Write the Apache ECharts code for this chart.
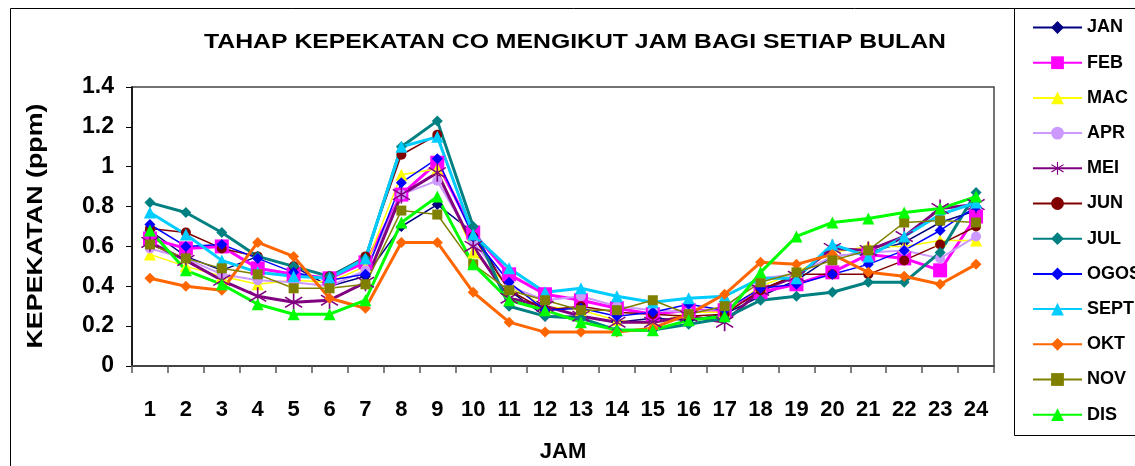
<!DOCTYPE html>
<html>
<head>
<meta charset="utf-8">
<script src="https://cdn.jsdelivr.net/npm/echarts@6/dist/echarts.min.js"></script>
<style>html,body{margin:0;padding:0;background:#fff}#c{width:1135px;height:466px}</style>
</head>
<body>
<div id="c"></div>
<script>
const hours = ['1','2','3','4','5','6','7','8','9','10','11','12','13','14','15','16','17','18','19','20','21','22','23','24'];
const JAN  = [0.68,0.55,0.48,0.55,0.50,0.40,0.45,0.70,0.81,0.67,0.38,0.25,0.25,0.22,0.24,0.23,0.26,0.35,0.43,0.55,0.57,0.62,0.72,0.78];
const FEB  = [0.64,0.59,0.60,0.49,0.46,0.44,0.52,0.86,1.02,0.67,0.46,0.36,0.33,0.29,0.26,0.28,0.28,0.37,0.41,0.47,0.56,0.54,0.48,0.75];
const MAC  = [0.56,0.50,0.45,0.41,0.43,0.42,0.50,0.96,0.99,0.57,0.40,0.30,0.28,0.23,0.21,0.27,0.27,0.40,0.47,0.57,0.60,0.60,0.63,0.63];
const APR  = [0.59,0.54,0.46,0.43,0.42,0.40,0.48,0.86,0.93,0.62,0.40,0.33,0.35,0.30,0.28,0.27,0.29,0.44,0.46,0.55,0.57,0.58,0.54,0.65];
const MEI  = [0.62,0.53,0.43,0.35,0.32,0.33,0.42,0.86,0.97,0.60,0.34,0.30,0.25,0.22,0.22,0.25,0.22,0.38,0.45,0.59,0.58,0.65,0.79,0.81];
const JUN  = [0.69,0.67,0.59,0.55,0.50,0.45,0.55,1.06,1.16,0.65,0.38,0.28,0.30,0.27,0.26,0.25,0.26,0.38,0.46,0.46,0.46,0.53,0.61,0.70];
const JUL  = [0.82,0.77,0.67,0.55,0.50,0.45,0.54,1.10,1.23,0.70,0.30,0.25,0.24,0.18,0.18,0.21,0.24,0.33,0.35,0.37,0.42,0.42,0.57,0.87];
const OGOS = [0.71,0.60,0.61,0.54,0.47,0.43,0.46,0.92,1.04,0.65,0.42,0.28,0.29,0.25,0.27,0.31,0.28,0.39,0.41,0.46,0.51,0.58,0.68,0.80];
const SEPT = [0.77,0.66,0.53,0.47,0.45,0.44,0.54,1.10,1.15,0.66,0.49,0.37,0.39,0.35,0.32,0.34,0.35,0.44,0.44,0.61,0.55,0.65,0.76,0.82];
const OKT  = [0.44,0.40,0.38,0.62,0.55,0.34,0.29,0.62,0.62,0.37,0.22,0.17,0.17,0.17,0.19,0.26,0.36,0.52,0.51,0.56,0.47,0.45,0.41,0.51];
const NOV  = [0.61,0.54,0.49,0.46,0.39,0.39,0.41,0.78,0.76,0.51,0.38,0.33,0.28,0.28,0.33,0.26,0.30,0.42,0.47,0.53,0.58,0.72,0.73,0.72];
const DIS  = [0.68,0.48,0.41,0.31,0.26,0.26,0.33,0.72,0.85,0.51,0.33,0.28,0.22,0.18,0.18,0.23,0.25,0.47,0.65,0.72,0.74,0.77,0.79,0.85];

const TITLE = 'TAHAP KEPEKATAN CO MENGIKUT JAM BAGI SETIAP BULAN';
const YNAME = 'KEPEKATAN (ppm)';
const XNAME = 'JAM';

const FONT = 'Liberation Sans, Arial, sans-serif';
const ASTER = 'path://M-0.8,-10L0.8,-10L0.8,10L-0.8,10Z M8.65,5.08L7.73,6.39L-8.65,-5.08L-7.73,-6.39Z M-7.73,6.39L-8.65,5.08L7.73,-6.39L8.65,-5.08Z';

function mk(name, data, color, symbol, size, width) {
  return {
    name: name, type: 'line', data: data,
    symbol: symbol, symbolSize: size,
    lineStyle: {color: color, width: width},
    itemStyle: {color: color},
    emphasis: {disabled: true}
  };
}

const series = [
  mk('JAN', JAN, '#000080', 'diamond', 11, 1.5),
  mk('FEB', FEB, '#FF00FF', 'rect', 14, 3),
  mk('MAC', MAC, '#FFFF00', 'triangle', 12, 1.5),
  mk('APR', APR, '#CC99FF', 'circle', 10, 2),
  mk('MEI', MEI, '#800080', ASTER, 18, 3),
  mk('JUN', JUN, '#800000', 'circle', 10, 1.5),
  mk('JUL', JUL, '#008080', 'diamond', 11, 3),
  mk('OGOS', OGOS, '#0000FF', 'diamond', 11, 1.5),
  mk('SEPT', SEPT, '#00CCFF', 'triangle', 12, 3),
  mk('OKT', OKT, '#FF6600', 'diamond', 11, 3),
  mk('NOV', NOV, '#808000', 'rect', 10, 1.5),
  mk('DIS', DIS, '#00FF00', 'triangle', 12, 3)
];

const chart = echarts.init(document.getElementById('c'));
chart.setOption({
  animation: false,
  backgroundColor: '#fff',
  graphic: [
    {type: 'rect', shape: {x: 10.5, y: 8.5, width: 1200, height: 500}, style: {fill: 'none', stroke: '#000', lineWidth: 1}, z: -10},
    {type: 'rect', shape: {x: 1014.5, y: 8.5, width: 200, height: 427}, style: {fill: '#fff', stroke: '#000', lineWidth: 1}, z: -5},
    {type: 'text', x: 575, y: 42, scaleX: 1.18,
      style: {text: TITLE, x: 0, y: 0, textAlign: 'center', textVerticalAlign: 'middle',
        font: 'bold 21px ' + FONT, fill: '#000'}, z: 10},
    {type: 'text', x: 36, y: 226, rotation: Math.PI / 2, scaleX: 1.22,
      style: {text: YNAME, x: 0, y: 0, textAlign: 'center', textVerticalAlign: 'middle',
        font: 'bold 22px ' + FONT, fill: '#000'}, z: 10}
  ],
  legend: {
    orient: 'vertical', left: 1027, top: 12,
    itemWidth: 49, itemHeight: 16, itemGap: 14.2,
    textStyle: {fontFamily: FONT, fontSize: 18, fontWeight: 'bold', color: '#000', lineHeight: 21},
    data: series.map(s => s.name)
  },
  grid: {left: 132, top: 87, right: 141, bottom: 100, outerBoundsMode: 'none', containLabel: false,
    show: true, borderColor: '#444', borderWidth: 1.5, backgroundColor: '#fff'},
  xAxis: {
    type: 'category', data: hours, boundaryGap: true,
    name: XNAME, nameLocation: 'middle', nameGap: 75,
    nameTextStyle: {fontFamily: FONT, fontSize: 22, fontWeight: 'bold', color: '#000'},
    axisLine: {lineStyle: {color: '#444', width: 2}},
    axisTick: {show: true, length: 7, alignWithLabel: false, lineStyle: {color: '#555', width: 1.5}},
    axisLabel: {margin: 33, fontFamily: FONT, fontSize: 22, fontWeight: 'bold', color: '#000'},
    splitLine: {show: false}
  },
  yAxis: {
    type: 'value', min: 0, max: 1.4, interval: 0.2,
    axisLine: {show: true, lineStyle: {color: '#000', width: 1.5}},
    axisTick: {show: true, inside: false, length: 6, lineStyle: {color: '#000', width: 1}},
    axisLabel: {margin: 18, fontFamily: FONT, fontSize: 23, fontWeight: 'bold', color: '#000'},
    splitLine: {show: false}
  },
  series: series
});
</script>
</body>
</html>
